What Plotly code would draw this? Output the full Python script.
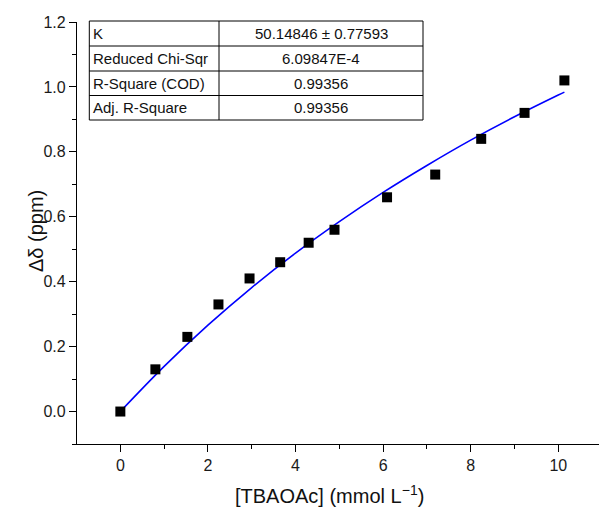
import plotly.graph_objects as go

# Data
conc = [0, 0.80, 1.53, 2.24, 2.95, 3.65, 4.30, 4.89, 6.09, 7.19, 8.24, 9.23, 10.14]
shift = [0.0, 0.13, 0.23, 0.33, 0.41, 0.46, 0.52, 0.56, 0.66, 0.73, 0.84, 0.92, 1.02]

fit_x = [0, 1, 2, 3, 4, 5, 6, 7, 8, 9, 10, 10.14]
fit_y = [0.0, 0.139, 0.266, 0.382, 0.488, 0.585, 0.675, 0.758, 0.836, 0.908, 0.975, 0.984]

table_labels = ["K", "Reduced Chi-Sqr", "R-Square (COD)", "Adj. R-Square"]
table_values = ["50.14846 \u00b1 0.77593", "6.09847E-4", "0.99356", "0.99356"]

x_ticks = [0, 2, 4, 6, 8, 10]
y_ticks = [0.0, 0.2, 0.4, 0.6, 0.8, 1.0, 1.2]

W, H = 599, 515
ML, MR, MT, MB = 77, 0, 22, 71
FONT = "Arial, Liberation Sans, sans-serif"

fig = go.Figure()
fig.add_trace(go.Scatter(x=fit_x, y=fit_y, mode="lines", line=dict(color="#0000ff", width=1.6, shape="spline"),
                         showlegend=False, hoverinfo="skip"))
fig.add_trace(go.Scatter(x=conc, y=shift, mode="markers",
                         marker=dict(symbol="square", size=10, color="black"), showlegend=False))

pw = W - ML - MR
ph = H - MT - MB

def px(xp):
    return (xp - ML) / pw

def py(yp):
    return (H - MB - yp) / ph

# table
tx0, tx1, txd = 89.3, 423, 219
rows = [21, 46, 71, 95.5, 120]
line = dict(color="black", width=1)
fig.add_shape(type="rect", xref="paper", yref="paper", x0=px(tx0), x1=px(tx1), y0=py(rows[-1]), y1=py(rows[0]),
              line=line, fillcolor="white", layer="above")
for r in rows[1:-1]:
    fig.add_shape(type="line", xref="paper", yref="paper", x0=px(tx0), x1=px(tx1), y0=py(r), y1=py(r), line=line)
fig.add_shape(type="line", xref="paper", yref="paper", x0=px(txd), x1=px(txd), y0=py(rows[-1]), y1=py(rows[0]), line=line)
for i, (lab, val) in enumerate(zip(table_labels, table_values)):
    yc = (rows[i] + rows[i + 1]) / 2
    fig.add_annotation(xref="paper", yref="paper", x=px(tx0 + 2), y=py(yc), text=lab, showarrow=False,
                       xanchor="left", yanchor="middle", font=dict(family=FONT, size=15, color="#111"))
    fig.add_annotation(xref="paper", yref="paper", x=px((txd + tx1) / 2), y=py(yc), text=val, showarrow=False,
                       xanchor="center", yanchor="middle", font=dict(family=FONT, size=15, color="#111"))

# axis titles
fig.add_annotation(xref="paper", yref="paper", x=px(329), y=py(494), text="[TBAOAc] (mmol L<sup>\u22121</sup>)",
                   showarrow=False, xanchor="center", yanchor="middle", font=dict(family=FONT, size=20, color="#111"))
fig.add_annotation(xref="paper", yref="paper", x=px(36), y=py(231), text="\u0394\u03b4 (ppm)", textangle=-90,
                   showarrow=False, xanchor="center", yanchor="middle", font=dict(family=FONT, size=20, color="#111"))

axis_common = dict(showline=True, linecolor="black", linewidth=1.3, ticks="outside", ticklen=7, tickwidth=1.2,
                   tickcolor="black", showgrid=False, zeroline=False,
                   tickfont=dict(family=FONT, size=16, color="#1a1a1a"))

fig.update_xaxes(range=[-0.99, 10.93], tickvals=x_ticks, ticktext=[str(v) for v in x_ticks],
                 minor=dict(ticks="outside", ticklen=4, tickwidth=1.2, tickcolor="black",
                            tickvals=[-1, 1, 3, 5, 7, 9], showgrid=False),
                 **axis_common)
fig.update_yaxes(range=[-0.1, 1.2], tickvals=y_ticks, ticktext=[f"{v:.1f}" for v in y_ticks],
                 minor=dict(ticks="outside", ticklen=4, tickwidth=1.2, tickcolor="black",
                            tickvals=[-0.1, 0.1, 0.3, 0.5, 0.7, 0.9, 1.1], showgrid=False),
                 **axis_common)

fig.update_layout(width=W, height=H, margin=dict(l=ML, r=MR, t=MT, b=MB),
                  plot_bgcolor="white", paper_bgcolor="white", showlegend=False)

fig.write_html("out.html", config={"displayModeBar": False},
               post_script="document.body.style.margin='0';")
